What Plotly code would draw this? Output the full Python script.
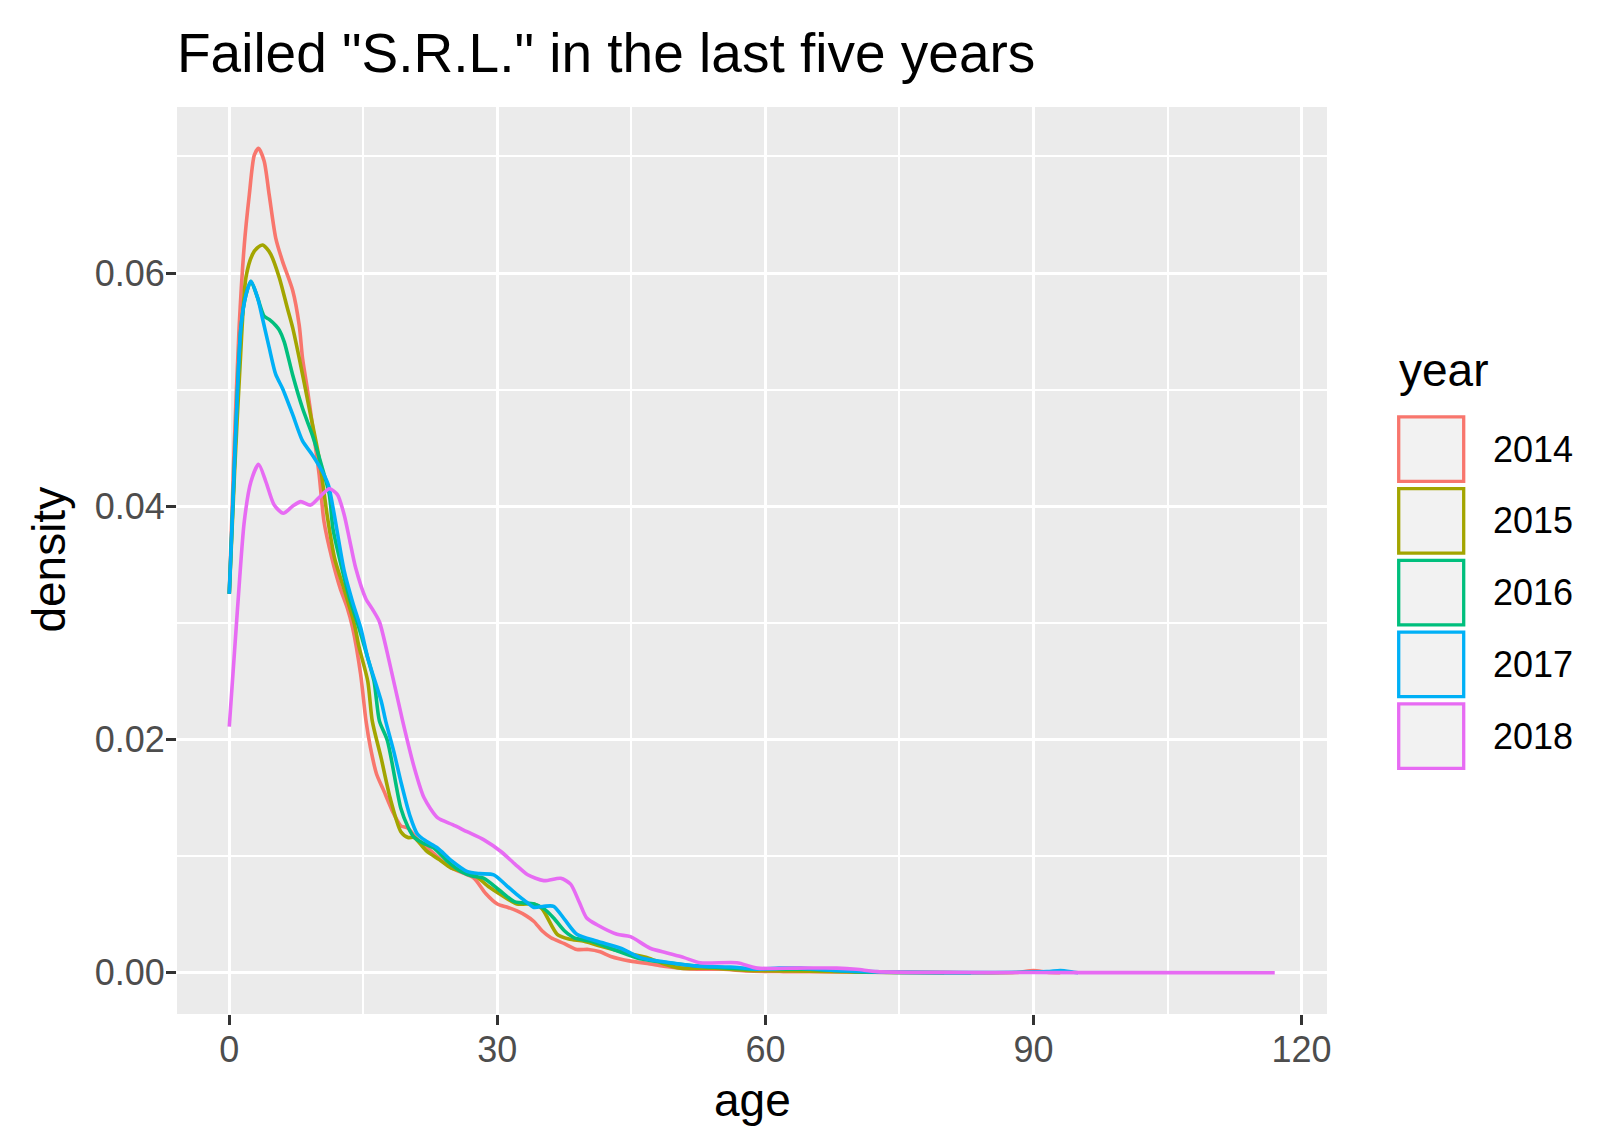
import plotly.graph_objects as go

# density curves (age, density)
years = ["2014", "2015", "2016", "2017", "2018"]
colors = ["#F8766D", "#A3A500", "#00BF7D", "#00B0F6", "#E76BF3"]

age_2014 = [0, 0.5, 1.1, 1.68, 2.24, 2.8, 3.28, 3.9, 4.47, 5.2, 5.96, 7.1, 7.83, 8.2, 8.75, 9.3,
            10.06, 10.6, 11.5, 12.4, 13.2, 13.8, 14.7, 15.3, 15.8, 16.5, 17.3, 18.3, 19.2, 20.0,
            21.0, 22.2, 23.5, 24.8, 26.0, 27.4, 28.7, 30.0, 31.2, 32.2, 33.2, 34.1, 35.0, 36.0,
            37.5, 38.9, 40.2, 41.5, 42.7, 44.9, 46.8, 48.6, 50.5, 52.4, 55.3, 58, 62, 68, 74, 80,
            88, 90, 91.5, 93]
dens_2014 = [0.0325, 0.044, 0.0553, 0.0624, 0.0667, 0.0701, 0.0707, 0.0696, 0.0667, 0.063, 0.061,
             0.0585, 0.0555, 0.0527, 0.0500, 0.047, 0.0427, 0.0387, 0.0355, 0.0330, 0.0313, 0.0296,
             0.0256, 0.0216, 0.0193, 0.0170, 0.0156, 0.0138, 0.0126, 0.0124, 0.0115, 0.0107, 0.0098,
             0.0090, 0.0086, 0.0081, 0.0068, 0.0059, 0.0056, 0.0053, 0.0049, 0.0044, 0.0036, 0.0030,
             0.0025, 0.0020, 0.0020, 0.0018, 0.0014, 0.0010, 0.0008, 0.00057, 0.0004, 0.0003, 0.0003,
             0.00015, 0.0001, 0.00008, 0.00003, 0.00001, 0.00002, 0.0002, 0.00005, 0.0]

age_2015 = [0, 0.6, 1.2, 1.86, 2.6, 3.2, 3.72, 4.2, 4.65, 5.6, 6.5, 7.1, 7.83, 8.95, 10.06, 11.0,
            11.8, 12.8, 14.0, 14.5, 15.5, 16.0, 17.0, 18.0, 19.2, 20.0, 20.7, 22.0, 23.5, 24.8,
            26.0, 27.4, 29.0, 30.4, 32.2, 34.1, 35.0, 36.7, 38.0, 39.7, 41.5, 43.4, 45.0, 46.8,
            48.5, 50.5, 54, 58, 63, 70, 76, 80]
dens_2015 = [0.0325, 0.043, 0.052, 0.0596, 0.0616, 0.0622, 0.0624, 0.0621, 0.0616, 0.0596, 0.057,
             0.0553, 0.0527, 0.0484, 0.0441, 0.0390, 0.0355, 0.0330, 0.0299, 0.0280, 0.0250, 0.0216,
             0.0184, 0.0150, 0.0121, 0.0116, 0.0116, 0.0105, 0.0097, 0.0090, 0.0087, 0.0084, 0.0074,
             0.0067, 0.0059, 0.0059, 0.0055, 0.0033, 0.0029, 0.0027, 0.0023, 0.0019, 0.0016, 0.0013,
             0.0008, 0.0004, 0.0004, 0.0002, 0.00015, 0.00008, 0.00002, 0.0]

age_2016 = [0, 0.6, 1.3, 1.86, 2.42, 3.16, 3.9, 4.5, 5.2, 5.6, 6.15, 7.08, 8.2, 9.3, 10.4, 11.2,
            11.6, 12.5, 13.5, 14.5, 15.3, 16.2, 16.8, 17.7, 19.2, 20.0, 20.7, 22.0, 22.9, 24.5,
            25.9, 27.2, 28.5, 30.2, 31.9, 34.1, 35.2, 36.3, 37.5, 38.6, 40.5, 43.0, 46.0, 48.6,
            52.0, 56.0, 60.0, 65.0, 70.0, 76, 83]
dens_2016 = [0.0325, 0.044, 0.0553, 0.0581, 0.0593, 0.0579, 0.0563, 0.0560, 0.0555, 0.0551, 0.0541,
             0.0513, 0.0484, 0.0461, 0.0433, 0.0410, 0.0381, 0.0350, 0.0320, 0.0296, 0.0275, 0.0250,
             0.0216, 0.0199, 0.0141, 0.0125, 0.0116, 0.0110, 0.0107, 0.0095, 0.0087, 0.0083, 0.0081,
             0.0071, 0.0061, 0.0059, 0.0055, 0.0047, 0.0036, 0.0030, 0.0027, 0.0020, 0.0012, 0.0009,
             0.0006, 0.0004, 0.0003, 0.0003, 0.0001, 0.00003, 0.0]

age_2017 = [0, 0.6, 1.3, 1.86, 2.42, 3.16, 3.72, 4.47, 5.2, 5.96, 7.08, 8.2, 9.3, 10.4, 11.1, 11.7,
            12.85, 13.8, 14.7, 15.5, 17.0, 17.5, 18.4, 19.2, 20.2, 21.05, 22.0, 23.3, 24.9, 26.6,
            28.0, 29.6, 31.0, 32.2, 33.2, 34.1, 35.2, 36.3, 37.5, 38.9, 41.2, 43.8, 46.0, 48.6,
            52.4, 56.1, 59.1, 61.5, 64, 68, 71.7, 76, 82.6, 91.5, 93, 94.5, 95]
dens_2017 = [0.0325, 0.044, 0.0553, 0.0581, 0.0593, 0.0579, 0.0561, 0.0536, 0.0513, 0.0501, 0.0479,
             0.0456, 0.0444, 0.0430, 0.0418, 0.0395, 0.0345, 0.0318, 0.0296, 0.0270, 0.0233, 0.0216,
             0.0190, 0.0164, 0.0135, 0.0119, 0.0113, 0.0107, 0.0096, 0.0087, 0.0085, 0.0084, 0.0075,
             0.0067, 0.0061, 0.0056, 0.0057, 0.0057, 0.0046, 0.0033, 0.0027, 0.0021, 0.0013, 0.00094,
             0.00057, 0.00049, 0.0003, 0.0004, 0.0004, 0.0002, 0.0001, 0.00003, 0.00001, 0.0001,
             0.0002, 0.00005, 0.0]

age_2018 = [0, 0.93, 1.68, 2.42, 3.28, 4.1, 5.03, 6.04, 7.08, 8.0, 9.1, 10.24, 11.2, 12.1, 12.85,
            13.5, 14.15, 15.27, 16.0, 16.8, 17.9, 19.4, 20.7, 21.8, 23.3, 25.0, 26.6, 28.5, 30.4,
            32.0, 33.4, 35.2, 37.1, 38.2, 39.2, 40.0, 41.2, 43.4, 44.9, 47.1, 49.0, 50.9, 52.7,
            56.8, 59.1, 63.5, 68.0, 70.2, 72.5, 80, 90, 100, 117]
dens_2018 = [0.0211, 0.0313, 0.0387, 0.0421, 0.0436, 0.0421, 0.0401, 0.0394, 0.0400, 0.0404, 0.0401,
             0.0409, 0.0415, 0.0410, 0.0393, 0.0370, 0.0347, 0.0321, 0.0312, 0.0301, 0.0267, 0.0216,
             0.0176, 0.0150, 0.0133, 0.0127, 0.0121, 0.0114, 0.0104, 0.0093, 0.0084, 0.0079, 0.0081,
             0.0076, 0.0060, 0.0047, 0.0041, 0.0033, 0.0031, 0.0021, 0.0017, 0.0013, 0.00086,
             0.00086, 0.0004, 0.0004, 0.0004, 0.0003, 0.0001, 0.00003, 0.00002, 0.00001, 0.0]

ages = [age_2014, age_2015, age_2016, age_2017, age_2018]
dens = [dens_2014, dens_2015, dens_2016, dens_2017, dens_2018]

FONT = "Liberation Sans, Arial, sans-serif"
W, H = 1612, 1140
L, R, T, B = 169, 293, 99, 134
PW, PH = W - L - R, H - T - B


# pixel position -> paper coordinates (for text and legend boxes)
def px_x(px):
    return (px - L) / PW


def px_y(py):
    return (H - B - py) / PH


fig = go.Figure()
for yr, col, a, d in zip(years, colors, ages, dens):
    fig.add_trace(go.Scatter(x=a, y=d, mode="lines", name=yr, showlegend=False,
                             line=dict(color=col, width=3.6, shape="spline", smoothing=0.7)))

fig.update_layout(
    width=W, height=H,
    margin=dict(l=L, r=R, t=T, b=B, autoexpand=False),
    paper_bgcolor="white", plot_bgcolor="#EBEBEB",
    font=dict(family=FONT, color="black"),
    title=dict(text='Failed "S.R.L." in the last five years', font=dict(size=55, color="black"),
               xref="paper", x=0, xanchor="left",
               yref="container", y=1 - 44.75 / H, yanchor="middle"),
)

axis_common = dict(showline=False, zeroline=False, gridcolor="white", gridwidth=3.4,
                   ticks="outside", ticklen=10, tickwidth=3, tickcolor="#333333",
                   ticklabelstandoff=-6,
                   tickfont=dict(size=36, color="#4D4D4D", family=FONT))
fig.update_xaxes(range=[-5.85, 122.85], tick0=0, dtick=30,
                 minor=dict(dtick=15, tick0=0, showgrid=True, gridcolor="white", gridwidth=1.7, ticklen=0),
                 **axis_common)
fig.update_yaxes(range=[-0.003535, 0.074235], tick0=0, dtick=0.02, tickformat=".2f",
                 minor=dict(dtick=0.01, tick0=0, showgrid=True, gridcolor="white", gridwidth=1.7, ticklen=0),
                 **axis_common)

# axis titles
fig.add_annotation(text="age", xref="paper", yref="paper", x=0.5, y=px_y(1092),
                   xanchor="center", yanchor="middle", showarrow=False,
                   font=dict(size=46, color="black"))
fig.add_annotation(text="density", xref="paper", yref="paper", x=px_x(40.6), y=px_y(552),
                   xanchor="center", yanchor="middle", textangle=-90, showarrow=False,
                   font=dict(size=46, color="black"))

# legend drawn by hand, ggplot-style key boxes
fig.add_annotation(text="year", xref="paper", yref="paper", x=px_x(1389), y=px_y(362),
                   xanchor="left", yanchor="middle", showarrow=False,
                   font=dict(size=46, color="black"))
key_top = 407.3
key_step = 71.75
key_h = 67.7
for i, (yr, col) in enumerate(zip(years, colors)):
    top = key_top + i * key_step
    fig.add_shape(type="rect", xref="paper", yref="paper",
                  x0=px_x(1390.7), x1=px_x(1455.7), y0=px_y(top + 1.6), y1=px_y(top + key_h - 1.6),
                  fillcolor="#F2F2F2", line=dict(color=col, width=3.3), layer="above")
    fig.add_annotation(text=yr, xref="paper", yref="paper", x=px_x(1482.7), y=px_y(top + key_h / 2),
                       xanchor="left", yanchor="middle", showarrow=False,
                       font=dict(size=36, color="black"))

fig.write_html("out.html")
